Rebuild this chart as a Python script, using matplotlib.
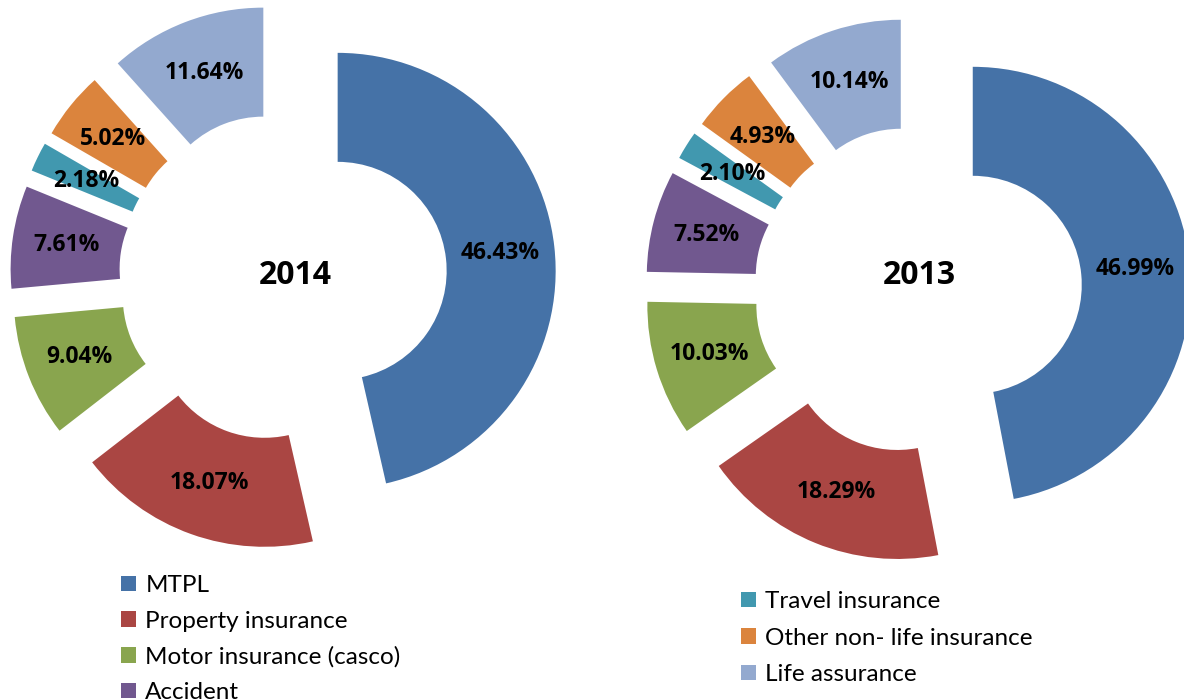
import matplotlib.pyplot as plt

plt.rcParams['font.family'] = ['Lato', 'DejaVu Sans']

# ---------------------------
# DATA
# ---------------------------
categories = ["MTPL", "Property insurance", "Motor insurance (casco)", "Accident",
              "Travel insurance", "Other non- life insurance", "Life assurance"]
share_2014 = [46.43, 18.07, 9.04, 7.61, 2.18, 5.02, 11.64]
share_2013 = [46.99, 18.29, 10.03, 7.52, 2.10, 4.93, 10.14]
colors = ["#4572A7", "#AA4643", "#89A54E", "#71588F", "#4198AF", "#DB843D", "#93A9CF"]

# ---------------------------
# FIGURE (1 data unit = 1 pixel)
# ---------------------------
W, H = 1184, 700
fig = plt.figure(figsize=(W / 100, H / 100), dpi=100)
ax = fig.add_axes([0, 0, 1, 1])

R = 218
ring = 109
gap = 55
bold_font = ['Open Sans', 'DejaVu Sans']


def donut(values, center, year, year_xy):
    wedges, _, pcts = ax.pie(
        values, colors=colors, radius=R, center=center,
        explode=[gap] * len(values), startangle=90, counterclock=False,
        wedgeprops=dict(width=ring, linewidth=0),
        autopct=lambda p: f"{p:.2f}%", pctdistance=0.75,
        textprops=dict(fontsize=16.5, fontweight='bold', color='black',
                       family=bold_font))
    ax.text(year_xy[0], year_xy[1], year, ha='center', va='center',
            fontsize=23, fontweight='bold', family=bold_font)
    return wedges


w14 = donut(share_2014, (283, H - 277), "2014", (295, H - 275))
w13 = donut(share_2013, (918, H - 290), "2013", (919, H - 275))

ax.set_xlim(0, W)
ax.set_ylim(0, H)
ax.set_aspect('auto')
ax.axis('off')

# ---------------------------
# LEGENDS
# ---------------------------
leg_kw = dict(loc='upper left', frameon=False, fontsize=17.5, borderpad=0,
              borderaxespad=0, handlelength=0.6, handleheight=0.6,
              handletextpad=0.4, labelspacing=0.6)
fig.legend(w14[:4], categories[:4], bbox_to_anchor=(121 / W, 1 - 575 / H), **leg_kw)
fig.legend(w14[4:], categories[4:], bbox_to_anchor=(741 / W, 1 - 591 / H),
           **{**leg_kw, 'labelspacing': 0.64})

fig.savefig("out.png", dpi=100)
